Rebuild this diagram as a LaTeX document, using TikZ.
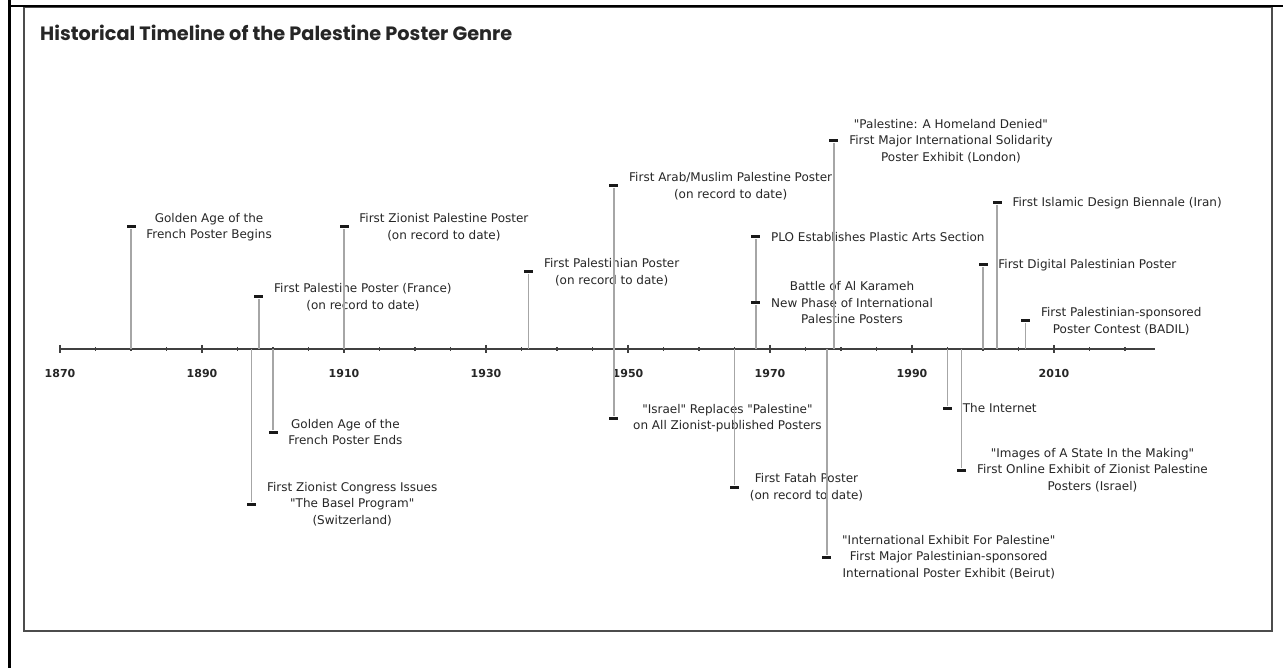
\documentclass[tikz,border=0pt]{standalone}
\usepackage{fontspec}
\setmainfont{DejaVu Sans}[Ligatures=TeXOff]
\newfontfamily\titlefont{Poppins}
\usetikzlibrary{positioning}

% year -> x position on the axis
\pgfmathdeclarefunction{yr}{1}{\pgfmathparse{60+7.1*(#1-1870)}}

\tikzset{
  axisline/.style={draw=black!75, line width=2pt},
  stem/.style={draw=black!35, line width=1.5pt},
  evmark/.style={fill=black!90, minimum width=9pt, minimum height=3pt, inner sep=0pt},
  evtext/.style={text=black!85, font=\fontsize{12}{16.5}\selectfont, align=center, inner sep=0pt},
  yearlbl/.style={font=\fontsize{11}{13}\selectfont\bfseries, text=black!85},
}

\begin{document}
\begin{tikzpicture}[x=1pt, y=-1pt]
    \useasboundingbox (0,0) rectangle (1283,668);

    % Marco y panel
    \shade[top color=white, middle color=black!13, bottom color=white] (24,7) rectangle (1272,631);
    \draw[white, line width=2pt] (27.5,10.5) rectangle (1268.5,627.5);
    \draw[black!70, line width=1.5pt] (24,7) rectangle (1272,631);
    \draw[black, line width=3pt] (9.5,0) -- (9.5,668);
    \draw[black, line width=2.5pt] (8,6) -- (1283,6);

    % Titulo
    \node[anchor=west, inner sep=0pt, text=black!85] (title) at (40,33)
        {\titlefont\fontsize{19.3}{22}\selectfont\bfseries Historical Timeline of the Palestine Poster Genre};

    % Eje
    \coordinate (axL) at ({yr(1870)},349);
    \coordinate (axR) at ({yr(2024.2)},349);
    \draw[axisline] (axL) -- (axR);
    \foreach \y in {1875,1880,...,2020}
        \draw[black!75, line width=1.5pt] ({yr(\y)},347.5) -- ({yr(\y)},351);
    \foreach \y in {1870,1890,...,2010} {
        \draw[black!75, line width=1.5pt] ({yr(\y)},345) -- ({yr(\y)},353);
        \node[yearlbl] (y\y) at ({yr(\y)},373) {\y};
    }

    % Eventos sobre el eje
    \coordinate (a1880) at ({yr(1880)},349);
    \node[evmark] (m1880) at ({yr(1880)},227) {};
    \draw[stem] (a1880) -- (m1880);
    \node[evtext, right=10.5pt of m1880] (t1880) {Golden Age of the\\French Poster Begins};

    \coordinate (a1898) at ({yr(1898)},349);
    \node[evmark] (m1898) at ({yr(1898)},297) {};
    \draw[stem] (a1898) -- (m1898);
    \node[evtext, right=10.5pt of m1898] (t1898) {First Palestine Poster (France)\\(on record to date)};

    \coordinate (a1910) at ({yr(1910)},349);
    \node[evmark] (m1910) at ({yr(1910)},227) {};
    \draw[stem] (a1910) -- (m1910);
    \node[evtext, right=10.5pt of m1910] (t1910) {First Zionist Palestine Poster\\(on record to date)};

    \coordinate (a1936) at ({yr(1936)},349);
    \node[evmark] (m1936) at ({yr(1936)},272) {};
    \draw[stem] (a1936) -- (m1936);
    \node[evtext, right=10.5pt of m1936] (t1936) {First Palestinian Poster\\(on record to date)};

    \node[evmark] (m1948a) at ({yr(1948)},186) {};
    \node[evmark] (m1948b) at ({yr(1948)},418) {};
    \draw[stem] (m1948a) -- (m1948b);
    \node[evtext, right=10.5pt of m1948a] (t1948a) {First Arab/Muslim Palestine Poster\\(on record to date)};

    \coordinate (a1968) at ({yr(1968)},349);
    \node[evmark] (m1968a) at ({yr(1968)},237) {};
    \node[evmark] (m1968b) at ({yr(1968)},303) {};
    \draw[stem] (a1968) -- (m1968b) -- (m1968a);
    \node[evtext, right=10.5pt of m1968a] (t1968a) {PLO Establishes Plastic Arts Section};
    \node[evtext, right=10.5pt of m1968b] (t1968b) {Battle of Al Karameh\\New Phase of International\\Palestine Posters};

    \coordinate (a1979) at ({yr(1979)},349);
    \node[evmark] (m1979) at ({yr(1979)},141) {};
    \draw[stem] (a1979) -- (m1979);
    \node[evtext, right=10.5pt of m1979] (t1979) {"Palestine: A Homeland Denied"\\First Major International Solidarity\\Poster Exhibit (London)};

    \coordinate (a2000) at ({yr(2000)},349);
    \node[evmark] (m2000) at ({yr(2000)},265) {};
    \draw[stem] (a2000) -- (m2000);
    \node[evtext, right=10.5pt of m2000] (t2000) {First Digital Palestinian Poster};

    \coordinate (a2002) at ({yr(2002)},349);
    \node[evmark] (m2002) at ({yr(2002)},203) {};
    \draw[stem] (a2002) -- (m2002);
    \node[evtext, right=10.5pt of m2002] (t2002) {First Islamic Design Biennale (Iran)};

    \coordinate (a2006) at ({yr(2006)},349);
    \node[evmark] (m2006) at ({yr(2006)},321) {};
    \draw[stem] (a2006) -- (m2006);
    \node[evtext, right=10.5pt of m2006] (t2006) {First Palestinian-sponsored\\Poster Contest (BADIL)};

    % Eventos bajo el eje
    \coordinate (a1897) at ({yr(1897)},349);
    \node[evmark] (m1897) at ({yr(1897)},504) {};
    \draw[stem] (a1897) -- (m1897);
    \node[evtext, right=10.5pt of m1897] (t1897) {First Zionist Congress Issues\\"The Basel Program"\\(Switzerland)};

    \coordinate (a1900) at ({yr(1900)},349);
    \node[evmark] (m1900) at ({yr(1900)},432) {};
    \draw[stem] (a1900) -- (m1900);
    \node[evtext, right=10.5pt of m1900] (t1900) {Golden Age of the\\French Poster Ends};

    \node[evtext, right=14.5pt of m1948b] (t1948b) {"Israel" Replaces "Palestine"\\on All Zionist-published Posters};

    \coordinate (a1965) at ({yr(1965)},349);
    \node[evmark] (m1965) at ({yr(1965)},487) {};
    \draw[stem] (a1965) -- (m1965);
    \node[evtext, right=10.5pt of m1965] (t1965) {First Fatah Poster\\(on record to date)};

    \coordinate (a1978) at ({yr(1978)},349);
    \node[evmark] (m1978) at ({yr(1978)},557) {};
    \draw[stem] (a1978) -- (m1978);
    \node[evtext, right=10.5pt of m1978] (t1978) {"International Exhibit For Palestine"\\First Major Palestinian-sponsored\\International Poster Exhibit (Beirut)};

    \coordinate (a1995) at ({yr(1995)},349);
    \node[evmark] (m1995) at ({yr(1995)},408) {};
    \draw[stem] (a1995) -- (m1995);
    \node[evtext, right=10.5pt of m1995] (t1995) {The Internet};

    \coordinate (a1997) at ({yr(1997)},349);
    \node[evmark] (m1997) at ({yr(1997)},470) {};
    \draw[stem] (a1997) -- (m1997);
    \node[evtext, right=10.5pt of m1997] (t1997) {"Images of A State In the Making"\\First Online Exhibit of Zionist Palestine\\Posters (Israel)};

\end{tikzpicture}
\end{document}
